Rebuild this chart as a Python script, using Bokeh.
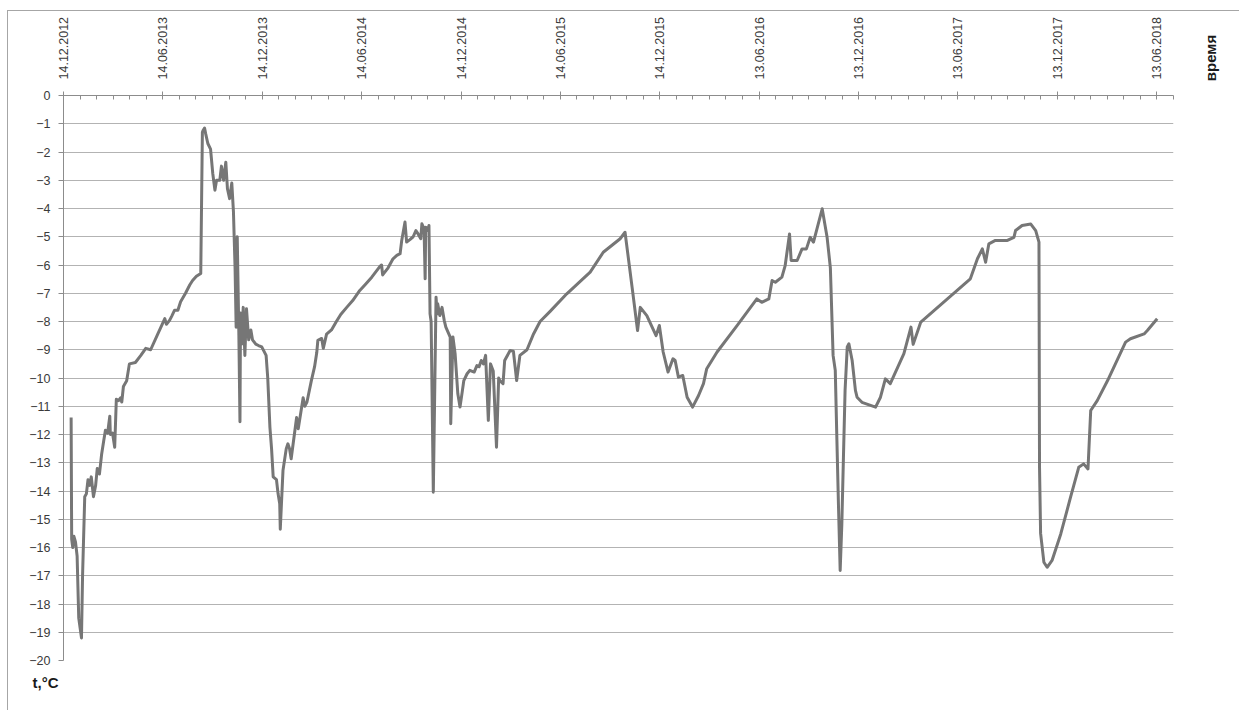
from datetime import datetime, timedelta

from bokeh.embed import file_html
from bokeh.layouts import column
from bokeh.models import ColumnDataSource, DatetimeTickFormatter, Div, FixedTicker, Range1d, Title
from bokeh.plotting import figure
from bokeh.resources import INLINE

# Ground temperature readings; day = days counted from 14.12.2012
start = datetime(2012, 12, 14)

day = [14, 15, 17, 19, 22, 25, 28, 33, 35, 39, 42, 45, 48, 51, 55, 59, 62, 66, 70, 74,
       77, 81, 85, 86, 90, 94, 97, 101, 105, 107, 110, 116, 121, 132, 142, 151, 160, 173, 186, 189,
       195, 199, 204, 210, 215, 224, 232, 237, 244, 252, 255, 256, 259, 261, 265, 270, 274, 278, 281, 287,
       290, 294, 298, 301, 305, 309, 312, 315, 317, 319, 322, 324, 325, 327, 330, 333, 336, 340, 344, 347,
       353, 358, 364, 372, 375, 379, 382, 385, 391, 394, 397, 398, 403, 409, 412, 415, 418, 428, 431, 440,
       443, 447, 455, 461, 465, 467, 474, 477, 483, 492, 501, 509, 520, 531, 544, 555, 566, 581, 584, 586,
       596, 605, 612, 618, 621, 627, 630, 636, 642, 647, 651, 656, 658, 662, 664, 665, 669, 671, 673, 675,
       679, 684, 686, 687, 691, 695, 699, 702, 710, 711, 715, 719, 724, 728, 732, 735, 741, 746, 754, 759,
       763, 767, 771, 775, 780, 784, 789, 795, 799, 801, 807, 810, 820, 826, 832, 838, 851, 863, 875, 893,
       924, 967, 991, 1022, 1031, 1044, 1054, 1059, 1071, 1088, 1094, 1101, 1110, 1119, 1123, 1129, 1137, 1145, 1155, 1166,
       1175, 1181, 1200, 1237, 1273, 1282, 1295, 1301, 1307, 1319, 1325, 1333, 1336, 1347, 1356, 1364, 1371, 1377, 1393, 1402,
       1408, 1413, 1417, 1420, 1423, 1426, 1429, 1432, 1435, 1439, 1442, 1448, 1454, 1457, 1466, 1491, 1500, 1509, 1518, 1543,
       1556, 1560, 1574, 1665, 1678, 1687, 1693, 1699, 1711, 1733, 1745, 1748, 1760, 1776, 1785, 1791, 1792, 1794, 1800, 1806,
       1815, 1831, 1849, 1864, 1873, 1881, 1886, 1898, 1917, 1950, 1959, 1984, 1990, 2008]

temp = [-11.4, -15.7, -16.0, -15.6, -15.8, -16.3, -18.5, -19.2, -17.0, -14.2, -14.1, -13.6, -13.8, -13.5, -14.2, -13.8, -13.2, -13.4, -12.7, -12.2,
        -11.85, -11.95, -11.35, -12.0, -11.95, -12.45, -10.75, -10.8, -10.7, -10.85, -10.3, -10.1, -9.5, -9.45, -9.2, -8.95, -9.0, -8.45, -7.9, -8.1,
        -7.95, -7.8, -7.6, -7.6, -7.3, -7.0, -6.7, -6.55, -6.4, -6.3, -1.3, -1.25, -1.15, -1.35, -1.7, -1.9, -2.75, -3.35, -3.0, -3.0,
        -2.5, -3.0, -2.36, -3.3, -3.65, -3.1, -4.1, -6.1, -8.2, -5.0, -8.5, -11.55, -7.7, -8.8, -7.5, -9.2, -7.55, -8.65, -8.3, -8.65,
        -8.8, -8.85, -8.9, -9.2, -10.0, -11.75, -12.5, -13.5, -13.6, -14.1, -14.45, -15.35, -13.27, -12.5, -12.33, -12.5, -12.86, -11.4, -11.8, -10.7,
        -11.0, -10.85, -10.1, -9.6, -9.1, -8.67, -8.6, -8.95, -8.45, -8.3, -8.0, -7.75, -7.5, -7.26, -6.9, -6.67, -6.43, -6.05, -6.0, -6.35,
        -6.1, -5.78, -5.66, -5.6, -5.13, -4.48, -5.19, -5.1, -5.0, -4.78, -4.9, -5.07, -4.54, -4.72, -6.49, -4.66, -4.78, -4.6, -7.73, -8.0,
        -14.04, -7.14, -7.73, -7.37, -7.79, -7.5, -7.96, -8.2, -8.55, -11.62, -8.55, -9.14, -10.56, -11.03, -10.5, -10.09, -9.85, -9.73, -9.79, -9.56,
        -9.6, -9.38, -9.5, -9.2, -11.5, -9.5, -9.75, -12.45, -10.0, -10.09, -10.2, -9.38, -9.03, -9.05, -10.09, -9.2, -9.0, -8.44, -8.0, -7.65,
        -7.02, -6.25, -5.55, -5.07, -4.84, -6.79, -8.32, -7.5, -7.79, -8.5, -8.14, -9.08, -9.79, -9.32, -9.38, -9.97, -9.91, -10.68, -11.03, -10.62,
        -10.2, -9.67, -9.08, -8.14, -7.2, -7.32, -7.2, -6.55, -6.61, -6.43, -6.02, -4.9, -5.84, -5.84, -5.43, -5.43, -5.02, -5.19, -4.01, -5.02,
        -6.1, -9.2, -9.73, -12.2, -14.6, -16.81, -15.2, -12.8, -10.44, -8.9, -8.79, -9.38, -10.44, -10.68, -10.86, -11.03, -10.68, -10.03, -10.2, -9.14,
        -8.2, -8.81, -8.02, -6.49, -5.78, -5.43, -5.9, -5.25, -5.13, -5.13, -5.02, -4.78, -4.6, -4.55, -4.78, -5.19, -13.16, -15.5, -16.52, -16.7,
        -16.46, -15.52, -14.22, -13.16, -13.04, -13.22, -11.15, -10.8, -10.09, -8.73, -8.61, -8.44, -8.32, -7.9]

x_tick_labels = ["14.12.2012", "14.06.2013", "14.12.2013", "14.06.2014", "14.12.2014", "14.06.2015",
                 "14.12.2015", "13.06.2016", "13.12.2016", "13.06.2017", "13.12.2017", "13.06.2018"]
y_ticks = list(range(0, -21, -1))
x_caption = "время"
y_caption = "t,°C"

EPOCH = datetime(1970, 1, 1)


def to_ms(d):
    return (d - EPOCH).total_seconds() * 1000.0


dates = [start + timedelta(days=d) for d in day]
src = ColumnDataSource(data=dict(date=dates, temp=temp))

major_dates = [datetime.strptime(s, "%d.%m.%Y") for s in x_tick_labels]
major_ms = [to_ms(d) for d in major_dates]
x_end = start + timedelta(days=2038)

# six minor divisions per labelled half-year step
minor_ms = []
step = (major_ms[1] - major_ms[0])
for a, b in zip(major_ms[:-1], major_ms[1:]):
    for k in range(6):
        minor_ms.append(a + (b - a) * k / 6)
t = major_ms[-1]
while t <= to_ms(x_end):
    minor_ms.append(t)
    t += step / 6

p = figure(width=1232, height=700, x_axis_type="datetime", x_axis_location="above",
           output_backend="svg", toolbar_location=None,
           x_range=Range1d(start, x_end), y_range=Range1d(-20, 0),
           min_border_left=55, min_border_top=84, min_border_right=67, min_border_bottom=51,
           styles={"margin-left": "7px", "margin-top": "10px",
                   "border-left": "1px solid #a6a6a6", "border-top": "1px solid #a6a6a6"})
p.outline_line_color = None
p.background_fill_color = "white"
p.border_fill_color = "white"

p.line(x="date", y="temp", source=src, line_color="#767676", line_width=3, line_join="round")

LABEL_FONT = "Liberation Sans"
TEXT_COLOR = "#3a3a3a"

xa = p.xaxis[0]
xa.ticker = FixedTicker(ticks=major_ms, minor_ticks=minor_ms)
fmt = "%d.%m.%Y"
xa.formatter = DatetimeTickFormatter(milliseconds=fmt, seconds=fmt, minsec=fmt, minutes=fmt,
                                     hourmin=fmt, hours=fmt, days=fmt, months=fmt, years=fmt)
xa.major_label_orientation = "vertical"
xa.major_label_standoff = 12
xa.major_tick_out = 4
xa.major_tick_in = 1
xa.minor_tick_in = 4
xa.minor_tick_out = 0
xa.axis_line_color = "#8c8c8c"
xa.major_tick_line_color = "#8c8c8c"
xa.minor_tick_line_color = "#8c8c8c"
xa.major_label_text_font = LABEL_FONT
xa.major_label_text_font_size = "12.5px"
xa.major_label_text_color = TEXT_COLOR

ya = p.yaxis[0]
ya.ticker = FixedTicker(ticks=y_ticks)
ya.major_tick_out = 5
ya.major_tick_in = 0
ya.minor_tick_line_color = None
ya.major_label_standoff = 8
ya.axis_line_color = "#8c8c8c"
ya.major_tick_line_color = "#8c8c8c"
ya.major_label_text_font = LABEL_FONT
ya.major_label_text_font_size = "12.5px"
ya.major_label_text_color = TEXT_COLOR

p.xgrid.visible = False
p.ygrid.ticker = FixedTicker(ticks=y_ticks)
p.ygrid.grid_line_color = "#b3b3b3"
p.ygrid.grid_line_width = 1

# temperature caption under the value axis
p.add_layout(Title(text=y_caption, align="left", offset=-31, standoff=23,
                   text_font=LABEL_FONT, text_font_size="15px", text_font_style="bold",
                   text_color="#1a1a1a"), "below")

# time caption, rotated, right of the date axis
time_caption = Div(text=x_caption, width=60, height=20,
                   styles={"position": "absolute", "left": "1176px", "top": "43px",
                           "transform": "rotate(-90deg)", "transform-origin": "50% 50%",
                           "text-align": "center", "line-height": "20px",
                           "font-family": LABEL_FONT, "font-size": "15px",
                           "font-weight": "bold", "color": "#1a1a1a"})

layout = column(p, time_caption)
open("out.html", "w").write(file_html(layout, INLINE))
